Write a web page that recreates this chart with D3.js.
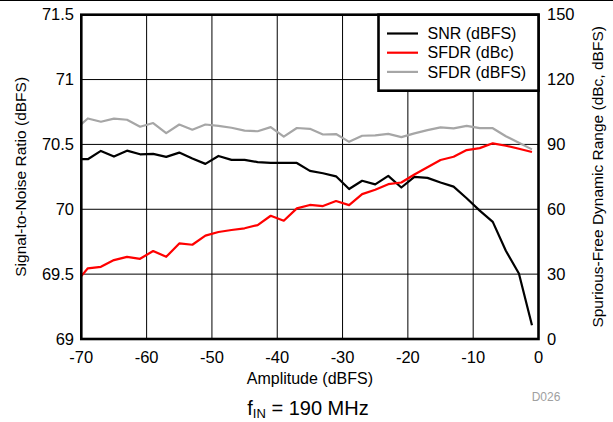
<!DOCTYPE html>
<html>
<head>
<meta charset="utf-8">
<script src="https://cdn.jsdelivr.net/npm/d3@7"></script>
<style>
  body { margin: 0; background: #fff; }
  svg { display: block; font-family: "Liberation Sans", Arial, sans-serif; }
</style>
</head>
<body>
<div id="chart"></div>
<script>
// amplitude points (dBFS)
const amplitude = [-70, -69, -67, -65, -63, -61, -59, -57, -55, -53, -51, -49, -47, -45, -43, -41, -39, -37,
  -35, -33, -31, -29, -27, -25, -23, -21, -19, -17, -15, -13, -11, -9, -7, -5, -3, -1];

// left axis, dBFS
const snr = [70.386, 70.386, 70.450, 70.406, 70.452, 70.424, 70.427, 70.404, 70.437, 70.391, 70.350, 70.411,
  70.381, 70.381, 70.364, 70.357, 70.357, 70.357, 70.296, 70.278, 70.254, 70.156, 70.220, 70.192, 70.258,
  70.168, 70.250, 70.242, 70.206, 70.175, 70.085, 69.99, 69.903, 69.680, 69.505, 69.106];

// right axis
const sfdrDbc = [29.1, 32.7, 33.4, 36.5, 38.0, 37.1, 40.7, 38.0, 44.2, 43.6, 47.8, 49.5, 50.4, 51.2, 52.7,
  57.0, 54.7, 60.4, 62.0, 61.5, 63.8, 61.9, 67.0, 69.0, 71.6, 72.4, 76.1, 79.4, 82.8, 84.3, 87.4, 88.3,
  90.5, 89.4, 88.0, 86.5];
const sfdrDbfs = [99.4, 102.0, 100.5, 101.9, 101.4, 98.2, 99.9, 95.2, 99.2, 96.8, 99.2, 98.6, 97.7, 96.4,
  96.1, 98.0, 93.6, 97.6, 97.2, 94.6, 94.8, 91.2, 94.0, 94.2, 94.9, 93.4, 95.1, 96.6, 97.9, 97.4, 98.6,
  97.5, 97.5, 93.8, 90.8, 87.7];

const xTicks = [-70, -60, -50, -40, -30, -20, -10, 0];
const leftTicks = [69, 69.5, 70, 70.5, 71, 71.5];
const rightTicks = [0, 30, 60, 90, 120, 150];

const series = [
  { name: 'SNR (dBFS)', values: snr, color: '#000000', axis: 'left' },
  { name: 'SFDR (dBc)', values: sfdrDbc, color: '#ff0000', axis: 'right' },
  { name: 'SFDR (dBFS)', values: sfdrDbfs, color: '#a6a6a6', axis: 'right' }
];

const width = 613, height = 422;
const margin = { left: 81.3, right: 613 - 538.5, top: 14.7, bottom: 422 - 339 };
const tickFont = 16.5;

const svg = d3.select('#chart').append('svg')
  .attr('width', width)
  .attr('height', height);

const x = d3.scaleLinear().domain([-70, 0]).range([margin.left, width - margin.right]);
const yL = d3.scaleLinear().domain([69, 71.5]).range([height - margin.bottom, margin.top]);
const yR = d3.scaleLinear().domain([0, 150]).range([height - margin.bottom, margin.top]);

// top rule of the figure
svg.append('line')
  .attr('x1', 0).attr('x2', width)
  .attr('y1', 0.5).attr('y2', 0.5)
  .attr('stroke', '#000').attr('stroke-width', 1);

// grid
const grid = svg.append('g').attr('stroke', '#000').attr('stroke-width', 1);
grid.selectAll('.vg').data(xTicks.slice(1, -1)).enter().append('line')
  .attr('x1', d => x(d)).attr('x2', d => x(d))
  .attr('y1', yL.range()[1]).attr('y2', yL.range()[0]);
grid.selectAll('.hg').data(leftTicks.slice(1, -1)).enter().append('line')
  .attr('x1', x.range()[0]).attr('x2', x.range()[1])
  .attr('y1', d => yL(d)).attr('y2', d => yL(d));

// lines
series.forEach(s => {
  const y = s.axis === 'left' ? yL : yR;
  const line = d3.line()
    .x((d, i) => x(amplitude[i]))
    .y(d => y(d));
  svg.append('path')
    .datum(s.values)
    .attr('d', line)
    .attr('fill', 'none')
    .attr('stroke', s.color)
    .attr('stroke-width', 2.2)
    .attr('stroke-linejoin', 'round');
});

// frame
svg.append('rect')
  .attr('x', x.range()[0]).attr('y', yL.range()[1])
  .attr('width', x.range()[1] - x.range()[0])
  .attr('height', yL.range()[0] - yL.range()[1])
  .attr('fill', 'none')
  .attr('stroke', '#000')
  .attr('stroke-width', 2.6);

// tick labels (plain hyphen for negatives)
svg.append('g').selectAll('text').data(xTicks).enter().append('text')
  .attr('x', d => x(d)).attr('y', 363)
  .attr('text-anchor', 'middle')
  .attr('font-size', tickFont)
  .text(d => String(d));

svg.append('g').selectAll('text').data(leftTicks).enter().append('text')
  .attr('x', 74).attr('y', d => yL(d))
  .attr('dy', '0.35em')
  .attr('text-anchor', 'end')
  .attr('font-size', tickFont)
  .text(d => String(d));

svg.append('g').selectAll('text').data(rightTicks).enter().append('text')
  .attr('x', 547).attr('y', d => yR(d))
  .attr('dy', '0.35em')
  .attr('text-anchor', 'start')
  .attr('font-size', tickFont)
  .text(d => String(d));

// axis titles
svg.append('text')
  .attr('x', (x.range()[0] + x.range()[1]) / 2)
  .attr('y', 384)
  .attr('text-anchor', 'middle')
  .attr('font-size', 16)
  .text('Amplitude (dBFS)');

svg.append('text')
  .attr('transform', `translate(26,${(yL.range()[0] + yL.range()[1]) / 2}) rotate(-90)`)
  .attr('text-anchor', 'middle')
  .attr('font-size', 15.5)
  .text('Signal-to-Noise Ratio (dBFS)');

svg.append('text')
  .attr('transform', `translate(603,${(yL.range()[0] + yL.range()[1]) / 2}) rotate(-90)`)
  .attr('text-anchor', 'middle')
  .attr('font-size', 15.5)
  .text('Spurious-Free Dynamic Range (dBc, dBFS)');

svg.append('text')
  .attr('x', 546).attr('y', 401)
  .attr('text-anchor', 'middle')
  .attr('font-size', 12)
  .attr('fill', '#a0a0a0')
  .text('D026');

const cap = svg.append('text')
  .attr('x', 308).attr('y', 415)
  .attr('text-anchor', 'middle')
  .attr('font-size', 20);
cap.append('tspan').text('f');
cap.append('tspan').attr('font-size', 13).attr('dy', 3).text('IN');
cap.append('tspan').attr('dy', -3).text(' = 190 MHz');

// legend
const lg = svg.append('g');
lg.append('rect')
  .attr('x', 378.5).attr('y', 14.7)
  .attr('width', x.range()[1] - 378.5)
  .attr('height', 76)
  .attr('fill', '#fff')
  .attr('stroke', '#000')
  .attr('stroke-width', 2.6);
series.forEach((s, i) => {
  const yy = 33.5 + i * 19.2;
  lg.append('line')
    .attr('x1', 387).attr('x2', 418)
    .attr('y1', yy).attr('y2', yy)
    .attr('stroke', s.color).attr('stroke-width', 2.2);
  lg.append('text')
    .attr('x', 427.5).attr('y', yy)
    .attr('dy', '0.35em')
    .attr('font-size', 16)
    .text(s.name);
});
</script>
</body>
</html>
